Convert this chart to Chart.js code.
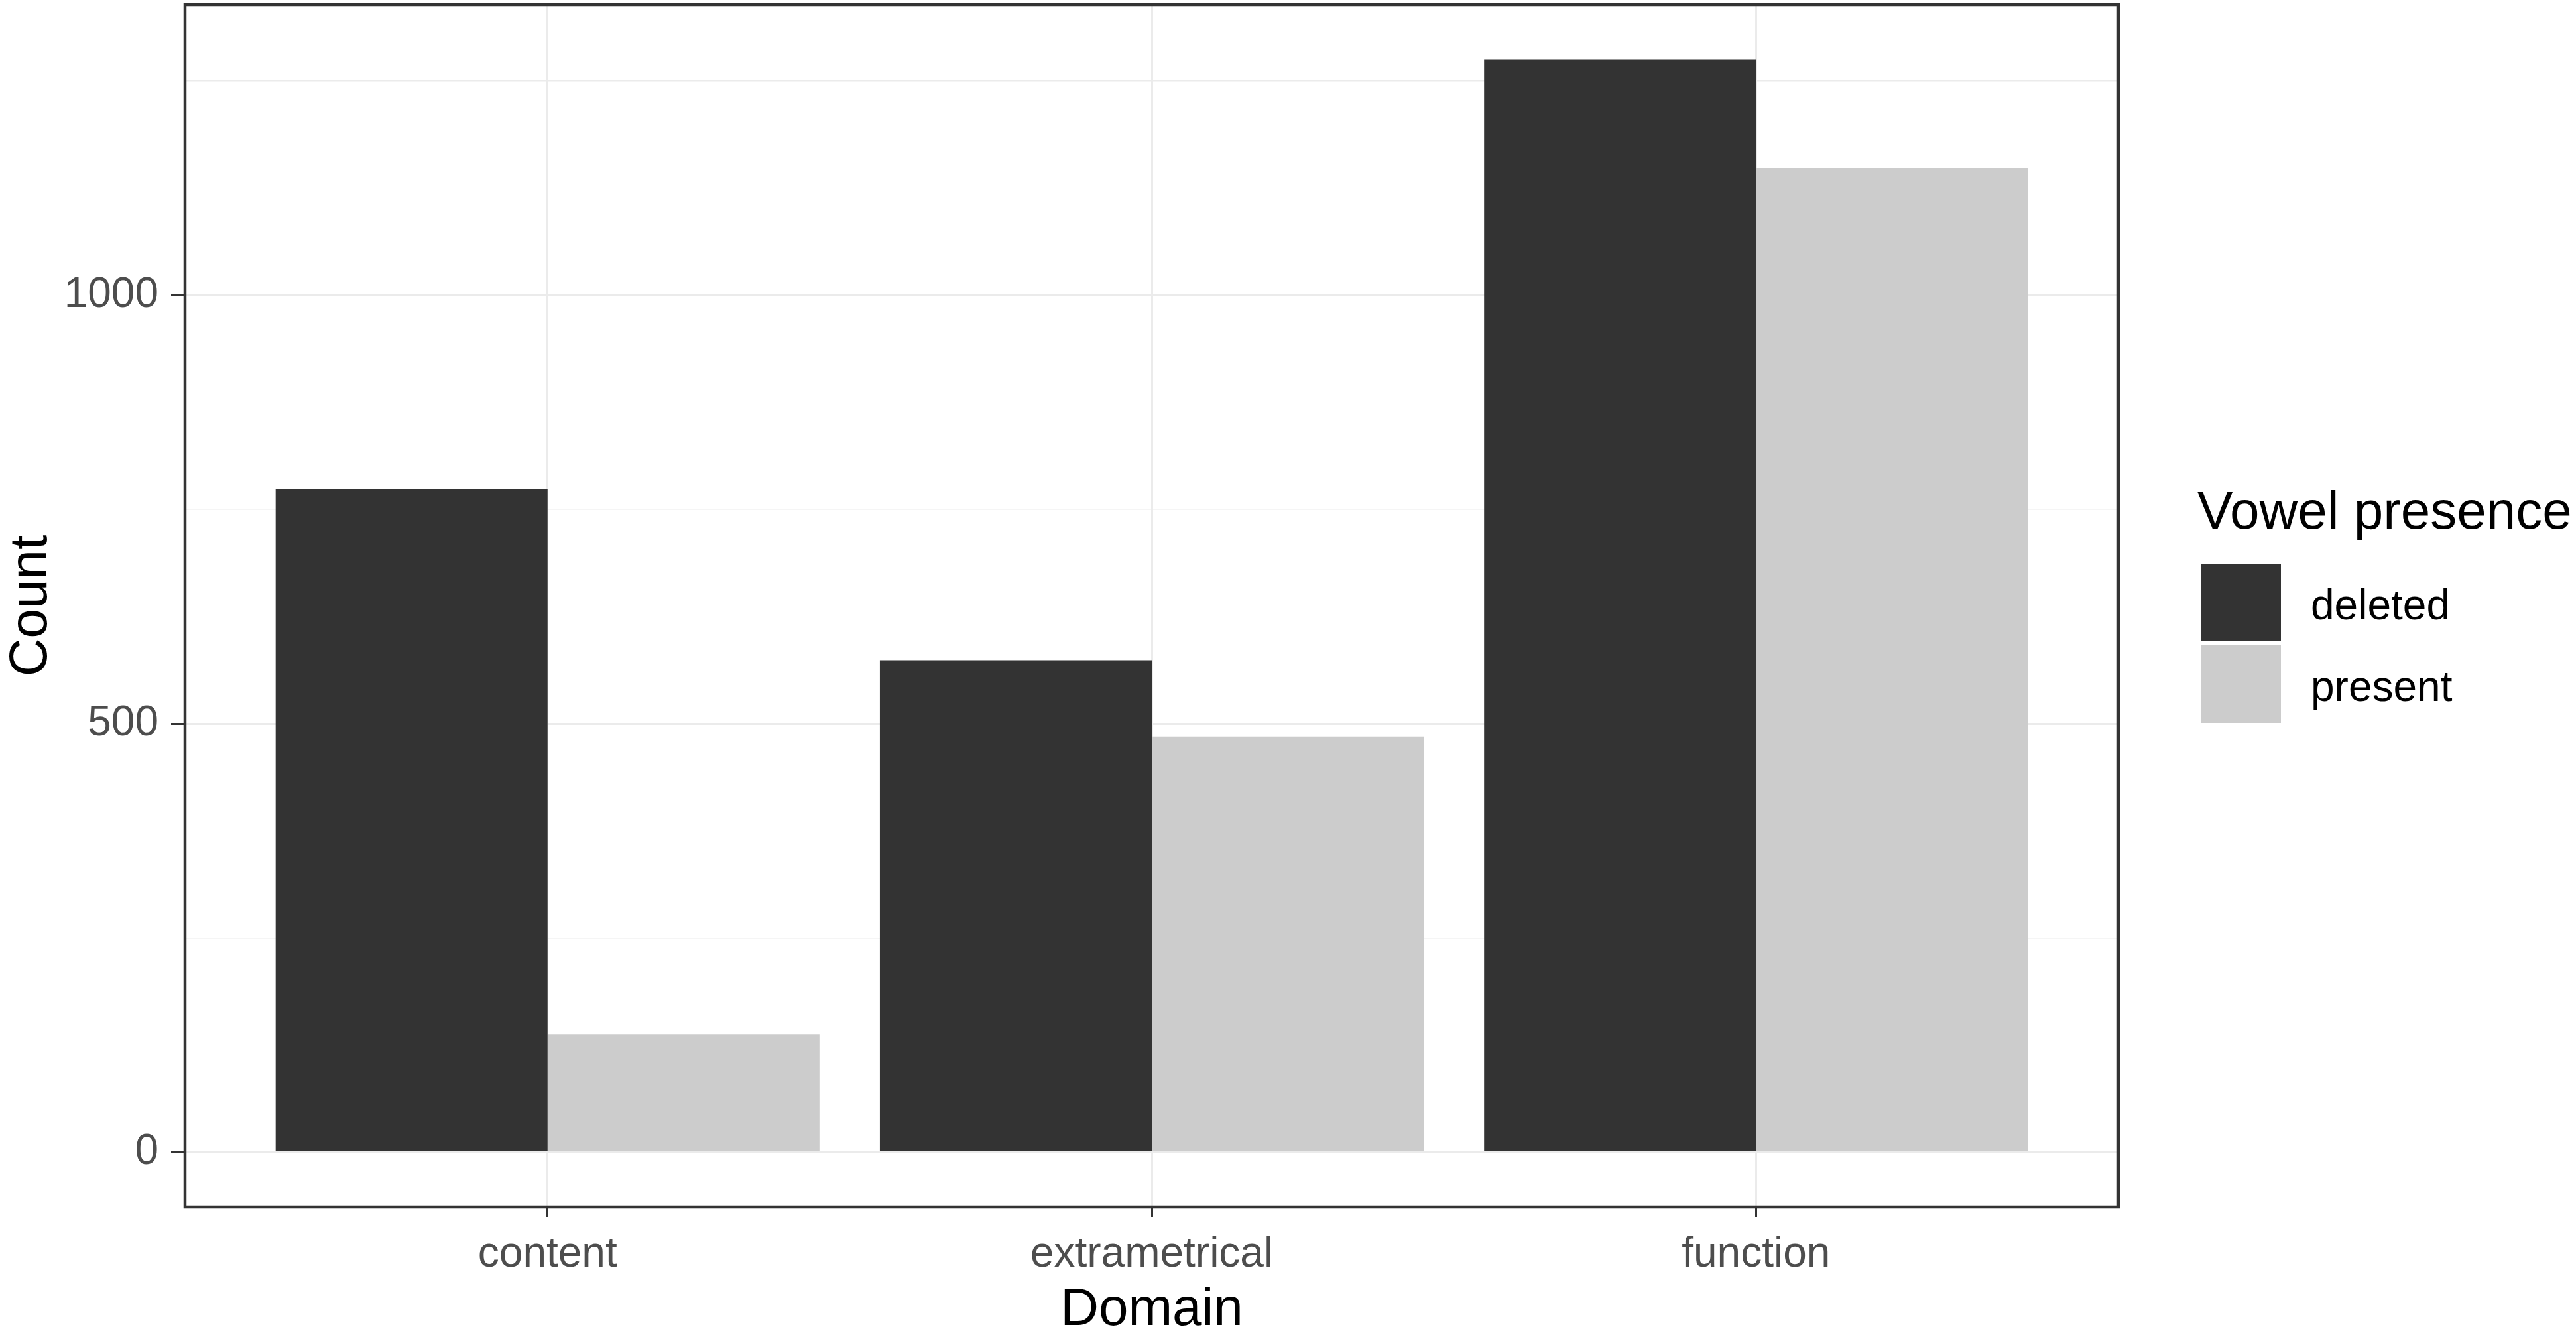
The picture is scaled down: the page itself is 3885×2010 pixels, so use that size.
<!DOCTYPE html>
<html>
<head>
<meta charset="utf-8">
<script src="https://cdn.jsdelivr.net/npm/chart.js@4/dist/chart.umd.min.js"></script>
<style>
  html, body { margin: 0; padding: 0; background: #fff; }
  #myChart { display: block; }
</style>
</head>
<body>
<canvas id="myChart" width="3885" height="2010" style="width:3885px;height:2010px"></canvas>
<script>
// data
const categories = ['content', 'extrametrical', 'function'];
const deleted = [774, 574, 1275];
const present = [138, 485, 1148];
const seriesNames = ['deleted', 'present'];
const seriesColors = ['#333333', '#CCCCCC'];
const yTickValues = [0, 250, 500, 750, 1000, 1250];
const yLabelValues = [0, 500, 1000];

const FONT = '"Liberation Sans", Arial, sans-serif';
const GRID = '#EBEBEB';
const INK = '#333333';

// ggplot-ish expansion of the y range (5%)
const yMax = Math.max(...deleted, ...present);
const yPad = yMax * 0.05;

function toPoints(arr) {
  return arr.map((v, i) => ({ x: i + 1, y: v }));
}

// panel border + legend drawn on top
const panelPlugin = {
  id: 'panel',
  afterDatasetsDraw(chart) {
    const a = chart.chartArea;
    const c = chart.ctx;
    c.save();
    c.strokeStyle = INK;
    c.lineWidth = 4.5;
    c.strokeRect(a.left, a.top, a.right - a.left, a.bottom - a.top);
    c.restore();
  },
  afterDraw(chart) {
    const c = chart.ctx;
    c.save();
    c.fillStyle = '#000';
    c.font = '80px ' + FONT;
    c.textAlign = 'left';
    c.textBaseline = 'alphabetic';
    c.fillText('Vowel presence', 3314, 797);
    chart.data.datasets.forEach((ds, i) => {
      const y = 850 + i * 123;
      c.fillStyle = ds.backgroundColor;
      c.fillRect(3320, y, 120, 117);
      c.fillStyle = '#000';
      c.font = '64px ' + FONT;
      c.textBaseline = 'middle';
      c.fillText(ds.label, 3485, y + 66);
    });
    c.restore();
  }
};

const ctx = document.getElementById('myChart').getContext('2d');

var graphData = {
  type: 'bar',
  data: {
    datasets: [{
      label: seriesNames[0],
      backgroundColor: seriesColors[0],
      borderWidth: 0,
      data: toPoints(deleted),
    }, {
      label: seriesNames[1],
      backgroundColor: seriesColors[1],
      borderWidth: 0,
      data: toPoints(present),
    }]
  },
  options: {
    responsive: false,
    devicePixelRatio: 1,
    animation: false,
    categoryPercentage: 0.9,
    barPercentage: 1.0,
    layout: { padding: { top: 7, right: 690, bottom: 0, left: 0 } },
    plugins: {
      legend: { display: false },
      tooltip: { enabled: false }
    },
    scales: {
      x: {
        type: 'linear',
        min: 0.4,
        max: categories.length + 0.6,
        offset: false,
        afterBuildTicks: (s) => { s.ticks = categories.map((_, i) => ({ value: i + 1 })); },
        afterFit: (s) => { s.height = 190; s.paddingLeft = 0; s.paddingRight = 0; },
        ticks: {
          autoSkip: false,
          maxRotation: 0,
          padding: 19,
          color: '#4D4D4D',
          font: { family: FONT, size: 64 },
          callback: (v) => categories[v - 1]
        },
        grid: {
          offset: false,
          color: GRID,
          lineWidth: 3,
          tickColor: INK,
          tickWidth: 3,
          tickLength: 15
        },
        border: { display: false },
        title: {
          display: true,
          text: 'Domain',
          color: '#000',
          font: { family: FONT, size: 80, lineHeight: 1 },
          padding: { top: 0, bottom: -6 }
        }
      },
      y: {
        type: 'linear',
        min: -yPad,
        max: yMax + yPad,
        afterBuildTicks: (s) => { s.ticks = yTickValues.map(v => ({ value: v })); },
        afterFit: (s) => { s.width = 279; s.paddingTop = 0; s.paddingBottom = 0; },
        ticks: {
          padding: 19,
          color: '#4D4D4D',
          font: { family: FONT, size: 64 },
          callback: (v) => yLabelValues.includes(v) ? String(v) : ''
        },
        grid: {
          color: GRID,
          lineWidth: (c) => yLabelValues.includes(c.tick.value) ? 3 : 1.5,
          tickColor: (c) => yLabelValues.includes(c.tick.value) ? INK : 'rgba(0,0,0,0)',
          tickWidth: 3,
          tickLength: 21
        },
        border: { display: false },
        title: {
          display: true,
          text: 'Count',
          color: '#000',
          font: { family: FONT, size: 80 },
          padding: { top: 0, bottom: 0 }
        }
      }
    }
  },
  plugins: [panelPlugin]
};

var myChart = new Chart(ctx, graphData);
</script>
</body>
</html>
